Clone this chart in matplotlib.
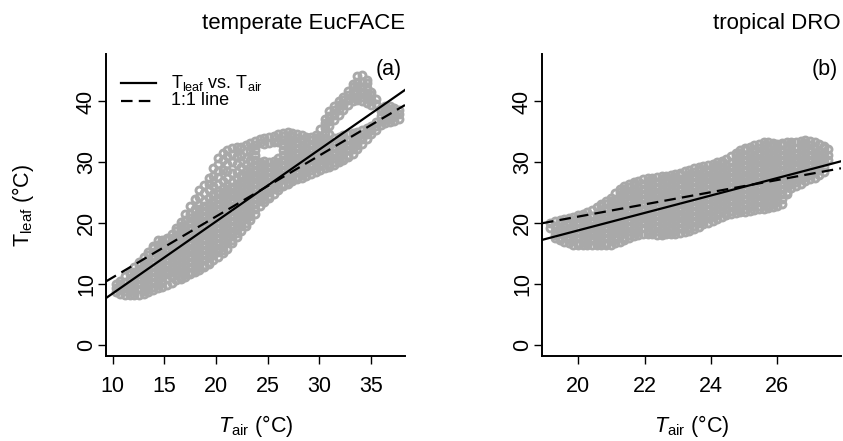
# Leaf vs air temperature, EucFACE (temperate) and DRO (tropical)
import matplotlib
matplotlib.use("Agg")
import matplotlib.pyplot as plt

plt.rcParams['font.family'] = ['Liberation Sans', 'DejaVu Sans']
plt.rcParams['mathtext.fontset'] = 'custom'
plt.rcParams['mathtext.rm'] = 'Liberation Sans'
plt.rcParams['mathtext.it'] = 'Liberation Sans:italic'

# ---- EucFACE: Tair columns and the Tleaf readings at each ----
tair_a = [10.3, 10.75, 11.2, 11.65, 12.1, 12.55, 13.0, 13.45, 13.9, 14.35, 14.8, 15.25,
          15.7, 16.15, 16.6, 17.05, 17.5, 17.95, 18.4, 18.85, 19.3, 19.75, 20.2, 20.65,
          21.1, 21.55, 22.0, 22.45, 22.9, 23.35, 23.8, 24.25, 24.7, 25.15, 25.6, 26.05,
          26.5, 26.95, 27.4, 27.85, 28.3, 28.75, 29.2, 29.65, 30.1, 30.55, 31.0, 31.45,
          31.9, 32.35, 32.8, 33.25, 33.7, 34.15, 34.6, 35.05, 35.5, 35.95, 36.4, 36.85,
          37.3, 37.75]
tleaf_a = [
    [8.7, 9.4, 10.0],
    [8.4, 9.2, 10.0, 10.5],
    [8.3, 8.8, 9.6, 10.4, 11.3],
    [8.2, 9.2, 10.0, 10.8, 11.6, 12.0],
    [8.2, 8.8, 9.6, 10.4, 11.2, 12.0, 12.8],
    [8.2, 9.2, 10.0, 10.8, 11.6, 12.4, 13.2, 13.6],
    [8.4, 8.8, 9.6, 10.4, 11.2, 12.0, 12.8, 13.6, 14.4],
    [8.7, 9.2, 10.0, 10.8, 11.6, 12.4, 13.2, 14.0, 14.8, 15.2],
    [9.0, 9.6, 10.4, 11.2, 12.0, 12.8, 13.6, 14.4, 15.2, 16.0, 16.3],
    [9.3, 10.0, 10.8, 11.6, 12.4, 13.2, 14.0, 14.8, 15.6, 16.4, 17.3],
    [9.6, 10.4, 11.2, 12.0, 12.8, 13.6, 14.4, 15.2, 16.0, 16.8, 17.2],
    [9.9, 10.8, 11.6, 12.4, 13.2, 14.0, 14.8, 15.6, 16.4, 17.2, 17.5],
    [10.2, 11.2, 12.0, 12.8, 13.6, 14.4, 15.2, 16.0, 16.8, 17.6, 18.2],
    [10.6, 11.6, 12.4, 13.2, 14.0, 14.8, 15.6, 16.4, 17.2, 18.0, 18.8, 19.2],
    [10.9, 11.2, 12.0, 12.8, 13.6, 14.4, 15.2, 16.0, 16.8, 17.6, 18.4, 19.2, 19.5, 20.2],
    [11.2, 11.6, 12.4, 13.2, 14.0, 14.8, 15.6, 16.4, 17.2, 18.0, 18.8, 19.6, 20.5, 21.5],
    [11.6, 12.0, 12.8, 13.6, 14.4, 15.2, 16.0, 16.8, 17.6, 18.4, 19.2, 20.0, 20.8, 21.5, 22.8],
    [12.0, 12.4, 13.2, 14.0, 14.8, 15.6, 16.4, 17.2, 18.0, 18.8, 19.6, 20.4, 21.2, 22.0, 22.3, 24.0],
    [12.4, 12.8, 13.6, 14.4, 15.2, 16.0, 16.8, 17.6, 18.4, 19.2, 20.0, 20.8, 21.6, 22.4, 23.0, 24.3, 25.5],
    [12.8, 13.2, 14.0, 14.8, 15.6, 16.4, 17.2, 18.0, 18.8, 19.6, 20.4, 21.2, 22.0, 22.8, 23.6, 25.0, 26.3],
    [13.3, 13.6, 14.4, 15.2, 16.0, 16.8, 17.6, 18.4, 19.2, 20.0, 20.8, 21.6, 22.4, 23.2, 24.2, 25.4, 26.5, 27.5],
    [13.9, 14.8, 15.6, 16.4, 17.2, 18.0, 18.8, 19.6, 20.4, 21.2, 22.0, 22.8, 23.6, 24.4, 24.8, 26.2, 27.8, 29.0],
    [14.5, 15.2, 16.0, 16.8, 17.6, 18.4, 19.2, 20.0, 20.8, 21.6, 22.4, 23.2, 24.0, 24.8, 25.3, 26.4, 27.6, 28.6, 29.7, 30.8],
    [15.1, 15.6, 16.4, 17.2, 18.0, 18.8, 19.6, 20.4, 21.2, 22.0, 22.8, 23.6, 24.4, 25.2, 25.8, 27.0, 28.8, 30.4, 31.6],
    [15.8, 16.8, 17.6, 18.4, 19.2, 20.0, 20.8, 21.6, 22.4, 23.2, 24.0, 24.8, 25.6, 26.3, 27.4, 28.6, 29.8, 31.0, 32.1],
    [16.8, 17.2, 18.0, 18.8, 19.6, 20.4, 21.2, 22.0, 22.8, 23.6, 24.4, 25.2, 26.0, 26.8, 28.2, 30.0, 31.4, 32.4],
    [17.8, 18.4, 19.2, 20.0, 20.8, 21.6, 22.4, 23.2, 24.0, 24.8, 25.6, 26.4, 27.3, 28.5, 29.7, 31.0, 32.5],
    [18.7, 19.6, 20.4, 21.2, 22.0, 22.8, 23.6, 24.4, 25.2, 26.0, 26.8, 27.6, 27.9, 29.2, 31.0, 32.6],
    [19.6, 20.0, 20.8, 21.6, 22.4, 23.2, 24.0, 24.8, 25.6, 26.4, 27.2, 28.0, 28.5, 29.6, 30.8, 31.9, 32.9],
    [20.5, 21.2, 22.0, 22.8, 23.6, 24.4, 25.2, 26.0, 26.8, 27.6, 28.4, 29.2, 30.4, 31.8, 33.2],
    [21.6, 22.4, 23.2, 24.0, 24.8, 25.6, 26.4, 27.2, 28.0, 28.8, 29.6, 30.4, 31.2, 32.0, 32.8, 33.5],
    [22.8, 23.6, 24.4, 25.2, 26.0, 26.8, 27.6, 28.4, 29.2, 30.0, 33.2, 33.8],
    [23.5, 24.0, 24.8, 25.6, 26.4, 27.2, 28.0, 28.8, 29.6, 30.3, 33.1, 34.0],
    [24.1, 24.4, 25.2, 26.0, 26.8, 27.6, 28.4, 29.2, 30.0, 33.2, 34.2],
    [24.8, 25.6, 26.4, 27.2, 28.0, 28.8, 29.6, 30.3, 33.3, 34.4],
    [25.5, 26.0, 26.8, 27.6, 28.4, 29.2, 30.0, 30.8, 33.3, 34.6],
    [26.1, 26.4, 27.2, 28.0, 28.8, 29.6, 30.4, 31.2, 32.0, 32.8, 33.6, 34.4, 34.8],
    [26.5, 26.8, 27.6, 28.4, 29.2, 30.0, 30.8, 31.6, 32.4, 33.2, 34.0, 35.0],
    [26.9, 27.2, 28.0, 28.8, 29.6, 30.4, 31.2, 32.0, 32.8, 33.6, 34.4, 34.9],
    [27.2, 27.6, 28.4, 29.2, 30.0, 30.8, 31.6, 32.4, 33.2, 34.0, 34.7],
    [27.5, 28.0, 28.8, 29.6, 30.4, 31.2, 32.0, 32.8, 33.6, 34.5],
    [27.8, 28.4, 29.2, 30.0, 30.8, 31.6, 32.4, 33.2, 34.2],
    [28.1, 28.8, 29.6, 30.4, 31.2, 32.0, 32.8, 33.6, 34.1],
    [28.4, 29.2, 30.0, 30.8, 31.6, 32.4, 33.2, 34.0, 34.5],
    [28.7, 29.6, 30.4, 31.2, 32.0, 32.8, 33.6, 34.4, 35.4],
    [29.0, 30.0, 30.8, 31.6, 32.4, 33.2, 34.0, 34.8, 35.6, 36.4, 37.2],
    [29.2, 29.6, 30.4, 31.2, 32.0, 32.8, 33.6, 34.6, 36.0, 36.8, 37.6, 38.4],
    [29.6, 30.0, 30.8, 31.6, 32.4, 33.2, 34.0, 37.0, 37.8, 38.6, 39.2],
    [30.0, 30.4, 31.2, 32.0, 32.8, 33.6, 34.2, 37.8, 38.6, 39.4, 40.0],
    [30.4, 30.8, 31.6, 32.4, 33.2, 34.0, 34.5, 38.6, 39.4, 40.2, 40.8],
    [30.9, 31.2, 32.0, 32.8, 33.6, 34.6, 39.4, 40.2, 41.0, 41.8],
    [31.4, 32.2, 33.0, 33.8, 34.8, 40.0, 40.8, 41.6, 42.3, 42.9],
    [32.2, 32.8, 33.6, 34.4, 35.0, 40.2, 40.8, 41.6, 42.4, 43.2, 44.2],
    [33.0, 33.8, 34.6, 35.3, 40.0, 40.8, 41.6, 42.4, 43.2, 44.3],
    [33.8, 34.6, 35.6, 39.8, 40.6, 41.4, 42.2, 43.0, 43.5],
    [34.6, 35.3, 36.0, 39.5, 40.3, 41.0, 41.6],
    [35.3, 36.0, 36.6, 39.6, 40.4],
    [36.2, 36.8, 37.6, 38.4, 39.0],
    [36.4, 37.2, 38.0, 38.8, 39.3],
    [36.6, 37.2, 38.0, 38.8, 39.3],
    [36.8, 37.6, 38.4, 39.0],
    [37.2, 38.0, 38.6],
]

# ---- DRO ----
tair_b = [19.15, 19.29, 19.43, 19.57, 19.71, 19.85, 19.99, 20.13, 20.27, 20.41, 20.55,
          20.69, 20.83, 20.97, 21.11, 21.25, 21.39, 21.53, 21.67, 21.81, 21.95, 22.09,
          22.23, 22.37, 22.51, 22.65, 22.79, 22.93, 23.07, 23.21, 23.35, 23.49, 23.63,
          23.77, 23.91, 24.05, 24.19, 24.33, 24.47, 24.61, 24.75, 24.89, 25.03, 25.17,
          25.31, 25.45, 25.59, 25.73, 25.87, 26.01, 26.15, 26.29, 26.43, 26.57, 26.71,
          26.85, 26.99, 27.13, 27.27, 27.41, 27.55]
tleaf_b = [
    [19.3, 20.0],
    [17.6, 18.0, 18.8, 19.6, 20.3],
    [17.2, 17.6, 18.4, 19.2, 20.0, 20.5],
    [17.0, 18.0, 18.8, 19.6, 20.7],
    [16.8, 17.6, 18.4, 19.2, 20.0, 20.9],
    [16.5, 17.2, 18.0, 18.8, 19.6, 20.4, 21.1],
    [16.4, 16.8, 17.6, 18.4, 19.2, 20.0, 20.8, 21.4],
    [16.4, 17.2, 18.0, 18.8, 19.6, 20.4, 21.2, 21.6],
    [16.4, 16.8, 17.6, 18.4, 19.2, 20.0, 20.8, 21.8],
    [16.4, 17.2, 18.0, 18.8, 19.6, 20.4, 21.2, 22.2],
    [16.4, 16.8, 17.6, 18.4, 19.2, 20.0, 20.8, 21.6, 22.6],
    [16.4, 17.2, 18.0, 18.8, 19.6, 20.4, 21.2, 22.0, 22.8, 23.1],
    [16.4, 16.8, 17.6, 18.4, 19.2, 20.0, 20.8, 21.6, 22.4, 23.2, 23.6],
    [16.4, 17.2, 18.0, 18.8, 19.6, 20.4, 21.2, 22.0, 22.8, 23.6, 24.2],
    [16.8, 17.6, 18.4, 19.2, 20.0, 20.8, 21.6, 22.4, 23.2, 24.0, 24.9],
    [17.0, 18.0, 18.8, 19.6, 20.4, 21.2, 22.0, 22.8, 23.6, 24.4, 25.2, 25.6],
    [17.3, 17.6, 18.4, 19.2, 20.0, 20.8, 21.6, 22.4, 23.2, 24.0, 24.8, 25.6, 26.1],
    [17.6, 18.0, 18.8, 19.6, 20.4, 21.2, 22.0, 22.8, 23.6, 24.4, 25.2, 26.0, 26.5],
    [17.9, 18.4, 19.2, 20.0, 20.8, 21.6, 22.4, 23.2, 24.0, 24.8, 25.6, 26.4, 26.8],
    [18.1, 18.8, 19.6, 20.4, 21.2, 22.0, 22.8, 23.6, 24.4, 25.2, 26.0, 27.0],
    [18.3, 19.2, 20.0, 20.8, 21.6, 22.4, 23.2, 24.0, 24.8, 25.6, 26.4, 27.2],
    [18.3, 18.8, 19.6, 20.4, 21.2, 22.0, 22.8, 23.6, 24.4, 25.2, 26.0, 26.8, 27.4],
    [18.2, 19.2, 20.0, 20.8, 21.6, 22.4, 23.2, 24.0, 24.8, 25.6, 26.4, 27.2, 27.5],
    [18.1, 18.8, 19.6, 20.4, 21.2, 22.0, 22.8, 23.6, 24.4, 25.2, 26.0, 26.8, 27.6],
    [18.1, 18.4, 19.2, 20.0, 20.8, 21.6, 22.4, 23.2, 24.0, 24.8, 25.6, 26.4, 27.2, 27.7],
    [18.2, 18.8, 19.6, 20.4, 21.2, 22.0, 22.8, 23.6, 24.4, 25.2, 26.0, 26.8, 27.8],
    [18.3, 19.2, 20.0, 20.8, 21.6, 22.4, 23.2, 24.0, 24.8, 25.6, 26.4, 27.2, 27.9],
    [18.3, 18.8, 19.6, 20.4, 21.2, 22.0, 22.8, 23.6, 24.4, 25.2, 26.0, 26.8, 27.6, 28.1],
    [18.4, 19.2, 20.0, 20.8, 21.6, 22.4, 23.2, 24.0, 24.8, 25.6, 26.4, 27.2, 28.0, 28.3],
    [18.6, 19.6, 20.4, 21.2, 22.0, 22.8, 23.6, 24.4, 25.2, 26.0, 26.8, 27.6, 28.6],
    [18.8, 19.2, 20.0, 20.8, 21.6, 22.4, 23.2, 24.0, 24.8, 25.6, 26.4, 27.2, 28.0, 28.8],
    [19.1, 19.6, 20.4, 21.2, 22.0, 22.8, 23.6, 24.4, 25.2, 26.0, 26.8, 27.6, 28.4, 29.0],
    [19.4, 20.0, 20.8, 21.6, 22.4, 23.2, 24.0, 24.8, 25.6, 26.4, 27.2, 28.0, 28.8, 29.2],
    [19.8, 20.4, 21.2, 22.0, 22.8, 23.6, 24.4, 25.2, 26.0, 26.8, 27.6, 28.4, 29.4],
    [20.1, 20.8, 21.6, 22.4, 23.2, 24.0, 24.8, 25.6, 26.4, 27.2, 28.0, 28.8, 29.6],
    [20.4, 21.2, 22.0, 22.8, 23.6, 24.4, 25.2, 26.0, 26.8, 27.6, 28.4, 29.2, 29.8],
    [20.7, 21.6, 22.4, 23.2, 24.0, 24.8, 25.6, 26.4, 27.2, 28.0, 28.8, 29.6, 30.0],
    [21.0, 22.0, 22.8, 23.6, 24.4, 25.2, 26.0, 26.8, 27.6, 28.4, 29.2, 30.0, 30.3],
    [21.3, 21.6, 22.4, 23.2, 24.0, 24.8, 25.6, 26.4, 27.2, 28.0, 28.8, 29.6, 30.6],
    [21.5, 22.0, 22.8, 23.6, 24.4, 25.2, 26.0, 26.8, 27.6, 28.4, 29.2, 30.0, 31.0],
    [21.7, 22.4, 23.2, 24.0, 24.8, 25.6, 26.4, 27.2, 28.0, 28.8, 29.6, 30.4, 31.2, 31.5],
    [21.8, 22.8, 23.6, 24.4, 25.2, 26.0, 26.8, 27.6, 28.4, 29.2, 30.0, 30.8, 31.6, 32.0],
    [21.9, 22.4, 23.2, 24.0, 24.8, 25.6, 26.4, 27.2, 28.0, 28.8, 29.6, 30.4, 31.2, 32.0, 32.3],
    [22.0, 22.8, 23.6, 24.4, 25.2, 26.0, 26.8, 27.6, 28.4, 29.2, 30.0, 30.8, 31.6, 32.6],
    [22.2, 23.2, 24.0, 24.8, 25.6, 26.4, 27.2, 28.0, 28.8, 29.6, 30.4, 31.2, 32.0, 32.8],
    [22.3, 22.8, 23.6, 24.4, 25.2, 26.0, 26.8, 27.6, 28.4, 29.2, 30.0, 30.8, 31.6, 32.4, 33.0],
    [22.4, 23.2, 24.0, 24.8, 25.6, 26.4, 27.2, 28.0, 28.8, 29.6, 30.4, 31.2, 32.0, 32.8, 33.3],
    [22.5, 22.8, 23.6, 24.4, 25.2, 26.0, 26.8, 27.6, 28.4, 29.2, 30.0, 30.8, 31.6, 32.4, 33.3],
    [22.7, 23.2, 24.0, 24.8, 25.6, 26.4, 27.2, 28.0, 28.8, 29.6, 30.4, 31.2, 32.0, 32.8, 33.2],
    [22.9, 23.6, 24.4, 25.2, 26.0, 26.8, 27.6, 28.4, 29.2, 30.0, 30.8, 31.6, 32.4, 33.1],
    [23.2, 24.0, 24.8, 25.6, 26.4, 27.2, 28.0, 28.8, 29.6, 30.4, 31.2, 32.0, 32.8, 33.2],
    [24.8, 25.2, 26.0, 26.8, 27.6, 28.4, 29.2, 30.0, 30.8, 31.6, 32.4, 33.3],
    [25.8, 26.4, 27.2, 28.0, 28.8, 29.6, 30.4, 31.2, 32.0, 32.8, 33.3],
    [26.2, 26.8, 27.6, 28.4, 29.2, 30.0, 30.8, 31.6, 32.4, 33.4],
    [26.5, 27.2, 28.0, 28.8, 29.6, 30.4, 31.2, 32.0, 32.8, 33.5],
    [26.9, 27.6, 28.4, 29.2, 30.0, 30.8, 31.6, 32.4, 33.2, 33.6],
    [27.2, 28.0, 28.8, 29.6, 30.4, 31.2, 32.0, 32.8, 33.5],
    [27.5, 28.4, 29.2, 30.0, 30.8, 31.6, 32.4, 33.3],
    [27.9, 28.8, 29.6, 30.4, 31.2, 32.0, 33.0],
    [28.4, 29.2, 30.0, 30.8, 31.6, 32.4, 32.7],
    [30.4, 31.2, 32.2],
]

# fitted Tleaf ~ Tair lines (intercept, slope), and the 1:1 reference
fit_a = (-3.32, 1.18)
fit_b = (-9.76, 1.43)
one_to_one = (1.1, 1.0)

sites = ['temperate EucFACE', 'tropical DRO']
tags = ['(a)', '(b)']
xlims = [(9.35, 38.32), (18.9, 27.93)]
xticks = [[10, 15, 20, 25, 30, 35], [20, 22, 24, 26]]
yticks = [0, 10, 20, 30, 40]
dash = (5.2, 2.8)

assert len(tair_a) == len(tleaf_a) and len(tair_b) == len(tleaf_b)


def flatten(tair, tleaf):
    xs, ys = [], []
    for x, col in zip(tair, tleaf):
        for y in col:
            xs.append(x)
            ys.append(y)
    return xs, ys


W, H = 843, 441
fig = plt.figure(figsize=(W / 100, H / 100), dpi=100)
ax1 = fig.add_axes([106 / W, 1 - 356 / H, 299 / W, 302 / H])
ax2 = fig.add_axes([542 / W, 1 - 356 / H, 299 / W, 302 / H])

panels = [(ax1, tair_a, tleaf_a, fit_a), (ax2, tair_b, tleaf_b, fit_b)]
for i, (ax, tair, tleaf, fit) in enumerate(panels):
    xs, ys = flatten(tair, tleaf)
    ax.plot(xs, ys, 'o', mfc='none', mec='#a9a9a9', ms=5.0, mew=2.1, zorder=2)

    x0, x1 = xlims[i]
    ax.plot([x0, x1], [fit[0] + fit[1] * x0, fit[0] + fit[1] * x1],
            color='black', lw=1.6, zorder=3)
    ax.plot([x0, x1], [one_to_one[0] + x0, one_to_one[0] + x1],
            color='black', lw=1.6, dashes=dash, zorder=3)

    ax.set_xlim(x0, x1)
    ax.set_ylim(-1.8, 47.8)
    ax.set_xticks(xticks[i])
    ax.set_yticks(yticks)
    for s in ['top', 'right']:
        ax.spines[s].set_visible(False)
    for s in ['left', 'bottom']:
        ax.spines[s].set_linewidth(1.4)
    ax.tick_params(axis='both', length=5.5, width=1.0, labelsize=15.5)
    ax.tick_params(axis='x', pad=9)
    ax.tick_params(axis='y', pad=1, labelrotation=90)
    for lab in ax.get_yticklabels():
        lab.set_va('center')

    ax.set_title(sites[i], loc='right', fontsize=16, pad=18)
    ax.text(0.99, 0.95, tags[i], transform=ax.transAxes, ha='right', va='center',
            fontsize=15.5)
    ax.set_xlabel(r'$T_{\mathrm{air}}$ (°C)', fontsize=15.5)
    ax.xaxis.set_label_coords(0.5, -0.19)

ax1.set_ylabel(r'T$_{\mathrm{leaf}}$ (°C)', fontsize=15.5)
ax1.yaxis.set_label_coords(-0.235, 0.5)

# legend drawn by hand, R style without a box
ax1.plot([0.05, 0.167], [0.904, 0.904], color='black', lw=1.6,
         transform=ax1.transAxes, clip_on=False)
ax1.plot([0.05, 0.167], [0.846, 0.846], color='black', lw=1.6, dashes=dash,
         transform=ax1.transAxes, clip_on=False)
ax1.text(0.217, 0.904, r'T$_{\mathrm{leaf}}$ vs. T$_{\mathrm{air}}$', transform=ax1.transAxes,
         ha='left', va='center', fontsize=13)
ax1.text(0.217, 0.846, '1:1 line', transform=ax1.transAxes, ha='left', va='center',
         fontsize=13)

fig.savefig('out.png', dpi=100)
